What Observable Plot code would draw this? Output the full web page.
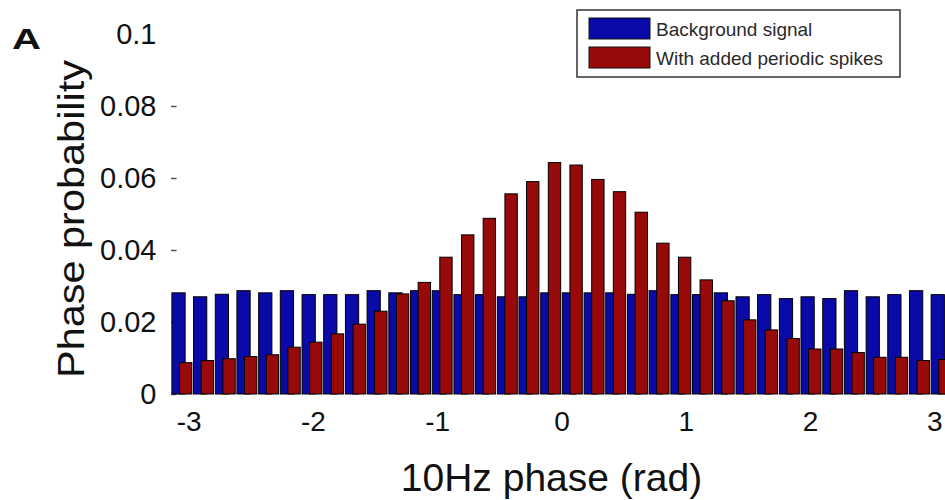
<!DOCTYPE html>
<html>
<head>
<meta charset="utf-8">
<script src="https://cdn.jsdelivr.net/npm/d3@7"></script>
<script src="https://cdn.jsdelivr.net/npm/@observablehq/plot@0.6"></script>
<style>
  html, body { margin: 0; padding: 0; background: #fff; overflow: hidden; }
  #chart { width: 945px; height: 500px; }
</style>
</head>
<body>
<div id="chart"></div>
<script>
// Phase bin centres (rad), 36 bins over [-pi, pi]
const phaseCenters = [
  -3.054, -2.880, -2.705, -2.531, -2.356, -2.182, -2.007, -1.833, -1.658,
  -1.484, -1.309, -1.134, -0.960, -0.785, -0.611, -0.436, -0.262, -0.087,
   0.087,  0.262,  0.436,  0.611,  0.785,  0.960,  1.134,  1.309,  1.484,
   1.658,  1.833,  2.007,  2.182,  2.356,  2.531,  2.705,  2.880,  3.054
];
// Series values (phase probability)
const backgroundSignal = [
  0.0281, 0.0270, 0.0277, 0.0287, 0.0281, 0.0287, 0.0276, 0.0276, 0.0276,
  0.0287, 0.0281, 0.0287, 0.0287, 0.0276, 0.0276, 0.0270, 0.0270, 0.0281,
  0.0281, 0.0281, 0.0281, 0.0277, 0.0287, 0.0276, 0.0276, 0.0281, 0.0270,
  0.0276, 0.0265, 0.0270, 0.0265, 0.0287, 0.0270, 0.0276, 0.0287, 0.0276
];
const withPeriodicSpikes = [
  0.0087, 0.0093, 0.0098, 0.0104, 0.0109, 0.0130, 0.0144, 0.0167, 0.0194,
  0.0230, 0.0278, 0.0310, 0.0380, 0.0442, 0.0488, 0.0556, 0.0590, 0.0643,
  0.0636, 0.0596, 0.0562, 0.0505, 0.0419, 0.0380, 0.0317, 0.0259, 0.0206,
  0.0178, 0.0154, 0.0125, 0.0125, 0.0115, 0.0102, 0.0102, 0.0093, 0.0096
];
const seriesNames = ["Background signal", "With added periodic spikes"];
const seriesColors = ["#0a0aa8", "#980a0a"];
const yTicks = [0, 0.02, 0.04, 0.06, 0.08, 0.1];
const yTickMarks = [0, 0.02, 0.04, 0.06, 0.08];
const xTicks = [-3, -2, -1, 0, 1, 2, 3];
const panelLabel = "A";
const xLabel = "10Hz phase (rad)";
const yLabel = "Phase probability";

const binWidth = 2 * Math.PI / 36;
const rows = phaseCenters.map((c, i) => ({c, bg: backgroundSignal[i], sp: withPeriodicSpikes[i]}));
const font = "'Liberation Sans', Arial, Helvetica, sans-serif";

const chart = Plot.plot({
  width: 945,
  height: 500,
  marginLeft: 171,
  marginRight: 0,
  marginTop: 34,
  marginBottom: 106,
  style: {fontFamily: font, background: "white", overflow: "hidden", color: "#000"},
  x: {domain: [-Math.PI, Math.PI], range: [171, 952]},
  y: {domain: [0, 0.1], range: [394, 34]},
  marks: [
    Plot.ruleY(yTickMarks, {x1: -Math.PI, x2: -Math.PI + 0.045, stroke: "#555", strokeWidth: 1.5}),
    Plot.rect(rows, {
      x1: d => d.c - 0.46 * binWidth, x2: d => d.c + 0.15 * binWidth,
      y1: 0, y2: "bg", fill: seriesColors[0], stroke: "#000", strokeWidth: 1
    }),
    Plot.rect(rows, {
      x1: d => d.c - 0.11 * binWidth, x2: d => d.c + 0.46 * binWidth,
      y1: 0, y2: "sp", fill: seriesColors[1], stroke: "#000", strokeWidth: 1
    }),
    Plot.axisY(yTicks, {tickSize: 0, tickPadding: 15, fontSize: 29, tickFormat: d => String(d), label: null, fill: "#111"}),
    Plot.axisX(xTicks, {tickSize: 0, tickPadding: 17, fontSize: 28, tickFormat: d => String(d), label: null, fill: "#111"})
  ]
});

const svg = d3.select(chart);

// Axis labels and panel letter
svg.append("text")
  .attr("x", 551.5).attr("y", 491)
  .attr("text-anchor", "middle")
  .attr("font-family", font).attr("font-size", 39).attr("fill", "#111")
  .text(xLabel);

svg.append("text")
  .attr("transform", "translate(84,219) rotate(-90)")
  .attr("text-anchor", "middle")
  .attr("font-family", font).attr("font-size", 37).attr("fill", "#111")
  .attr("textLength", 318).attr("lengthAdjust", "spacingAndGlyphs")
  .text(yLabel);

svg.append("text")
  .attr("x", 12).attr("y", 49)
  .attr("text-anchor", "start")
  .attr("font-family", font).attr("font-size", 29).attr("font-weight", "bold").attr("fill", "#111")
  .attr("textLength", 29).attr("lengthAdjust", "spacingAndGlyphs")
  .text(panelLabel);

// Legend
const lg = svg.append("g");
lg.append("rect").attr("x", 577).attr("y", 10).attr("width", 323).attr("height", 67)
  .attr("fill", "white").attr("stroke", "#333").attr("stroke-width", 1.5);
seriesNames.forEach((name, i) => {
  lg.append("rect").attr("x", 589).attr("y", 18 + i * 29).attr("width", 61).attr("height", 21)
    .attr("fill", seriesColors[i]).attr("stroke", "#111").attr("stroke-width", 1);
  lg.append("text").attr("x", 656).attr("y", 29 + i * 29)
    .attr("text-anchor", "start")
    .attr("dominant-baseline", "central")
    .attr("font-family", font).attr("font-size", 19).attr("fill", "#2a2a2a")
    .text(name);
});

document.getElementById("chart").appendChild(chart);
</script>
</body>
</html>
